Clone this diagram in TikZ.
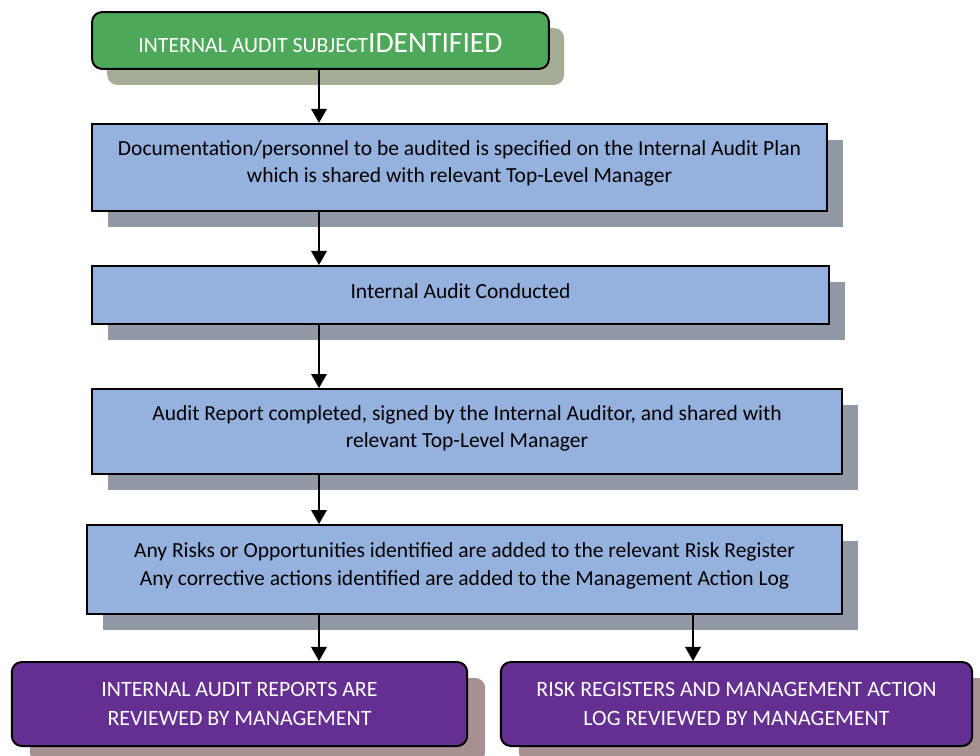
\documentclass[tikz,border=0pt]{standalone}
\usepackage{fontspec}
\setmainfont{Carlito}
\usepackage{xcolor}
\definecolor{auditgreen}{RGB}{78, 168, 90}
\definecolor{greenshade}{RGB}{166, 173, 150}
\definecolor{stepblue}{RGB}{149, 177, 221}
\definecolor{blueshade}{RGB}{145, 153, 166}
\definecolor{mgmtpurple}{RGB}{101, 46, 145}
\definecolor{purpleshade}{RGB}{168, 144, 144}
\usetikzlibrary{shapes,arrows.meta,positioning,shadows}

\begin{document}
\begin{tikzpicture}[x=0.025cm, y=-0.025cm,
    every node/.style={font=\fontsize{15.3}{19.5}\selectfont, align=center},
    stepbox/.style={rectangle, draw=black, line width=1.4pt, fill=stepblue,
        drop shadow={shadow xshift=0.4cm, shadow yshift=-0.4cm, fill=blueshade, opacity=1}},
    startbox/.style={rectangle, rounded corners=0.25cm, draw=black, line width=1.4pt, fill=auditgreen, text=white,
        drop shadow={shadow xshift=0.38cm, shadow yshift=-0.4cm, fill=greenshade, opacity=1}},
    endbox/.style={rectangle, rounded corners=0.25cm, draw=black, line width=1.4pt, fill=mgmtpurple, text=white,
        font=\fontsize{15.6}{21}\selectfont,
        drop shadow={shadow xshift=0.45cm, shadow yshift=-0.4cm, fill=purpleshade, opacity=1}},
    flow/.style={-{Triangle[width=11pt,length=10pt]}, line width=1.4pt}]
    \useasboundingbox (0,0) rectangle (980,756);

    \node[startbox, minimum width=11.42cm, minimum height=1.42cm, text height=17.7pt, text depth=0pt] (subject) at (320.5,40.5)
        {{\fontsize{15.5}{19}\selectfont INTERNAL AUDIT SUBJECT}{\fontsize{21}{19}\selectfont IDENTIFIED}};
    \node[stepbox, minimum width=18.38cm, minimum height=2.18cm] (plan) at (459.5,167.5)
        {Documentation/personnel to be audited is specified on the Internal Audit Plan\\which is shared with relevant Top-Level Manager\\[-11pt]};
    \node[stepbox, minimum width=18.42cm, minimum height=1.45cm] (conduct) at (460.5,295)
        {Internal Audit Conducted\\[-14pt]};
    \node[stepbox, minimum width=18.75cm, minimum height=2.12cm] (report) at (467,431.5)
        {Audit Report completed, signed by the Internal Auditor, and shared with\\relevant Top-Level Manager\\[-12.5pt]};
    \node[stepbox, minimum width=18.88cm, minimum height=2.22cm] (registers) at (464.5,569.5)
        {Any Risks or Opportunities identified are added to the relevant Risk Register\\Any corrective actions identified are added to the Management Action Log\\[-11.5pt]};
    \node[endbox, minimum width=11.38cm, minimum height=2.1cm] (review) at (239.5,704)
        {INTERNAL AUDIT REPORTS ARE\\REVIEWED BY MANAGEMENT};
    \node[endbox, minimum width=11.78cm, minimum height=2.1cm] (actionlog) at (736.5,704)
        {RISK REGISTERS AND MANAGEMENT ACTION\\LOG REVIEWED BY MANAGEMENT};

    \coordinate (lefttap) at (319,0);
    \coordinate (righttap) at (693,0);

    \draw[flow] (subject.south -| lefttap) -- (plan.north -| lefttap);
    \draw[flow] (plan.south -| lefttap) -- (conduct.north -| lefttap);
    \draw[flow] (conduct.south -| lefttap) -- (report.north -| lefttap);
    \draw[flow] (report.south -| lefttap) -- (registers.north -| lefttap);
    \draw[flow] (registers.south -| lefttap) -- (review.north -| lefttap);
    \draw[flow] (registers.south -| righttap) -- (actionlog.north -| righttap);
\end{tikzpicture}
\end{document}
